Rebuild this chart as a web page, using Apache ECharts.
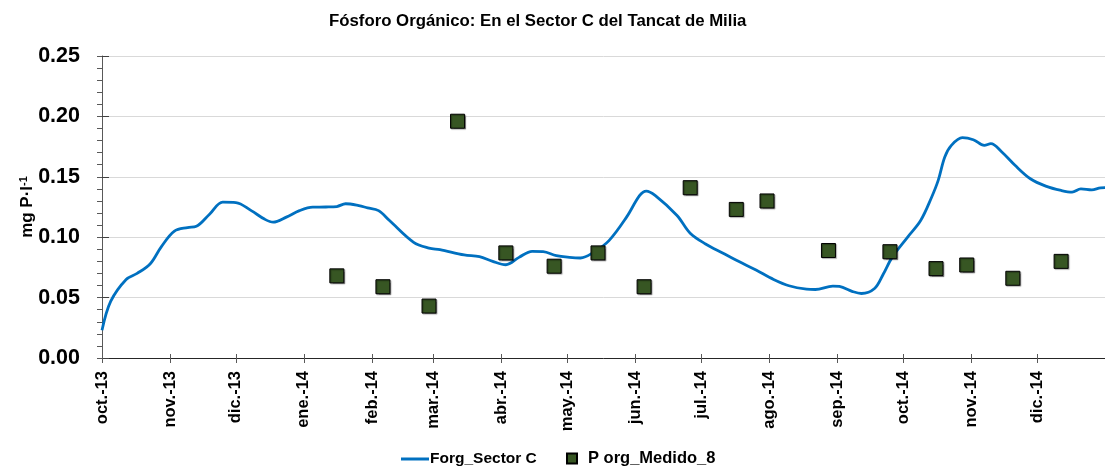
<!DOCTYPE html>
<html>
<head>
<meta charset="utf-8">
<script src="https://cdn.jsdelivr.net/npm/echarts@6/dist/echarts.min.js"></script>
<style>
  html, body { margin: 0; padding: 0; background: #fff; }
  #chart { width: 1105px; height: 468px; }
</style>
</head>
<body>
<div id="chart"></div>
<script>
// Modelled organic phosphorus, Sector C (daily simulation, sampled)
const modelDates = [
  '2013-10-01','2013-10-05','2013-10-12','2013-10-17','2013-10-23','2013-10-28',
  '2013-11-03','2013-11-09','2013-11-13','2013-11-19','2013-11-25','2013-12-01',
  '2013-12-08','2013-12-14','2013-12-18','2013-12-24','2013-12-30','2014-01-05',
  '2014-01-11','2014-01-16','2014-01-20','2014-01-26','2014-01-30','2014-02-04',
  '2014-02-09','2014-02-20','2014-02-27','2014-03-04','2014-03-15','2014-03-22',
  '2014-03-28','2014-04-03','2014-04-09','2014-04-15','2014-04-20','2014-04-26',
  '2014-05-02','2014-05-07','2014-05-13','2014-05-20','2014-05-28','2014-06-03',
  '2014-06-06','2014-06-10','2014-06-20','2014-06-26','2014-07-03','2014-07-11',
  '2014-07-18','2014-07-26','2014-08-03','2014-08-10','2014-08-18','2014-08-22',
  '2014-08-30','2014-09-02','2014-09-08','2014-09-12','2014-09-18','2014-09-22',
  '2014-09-26','2014-10-03','2014-10-09','2014-10-14','2014-10-17','2014-10-20',
  '2014-10-23','2014-10-28','2014-11-02','2014-11-07','2014-11-10','2014-11-15',
  '2014-11-21','2014-11-28','2014-12-05','2014-12-12','2014-12-17','2014-12-21',
  '2014-12-26','2014-12-30','2015-01-01'
];
const modelValues = [
  0.023, 0.047, 0.065, 0.070, 0.078, 0.092,
  0.105, 0.108, 0.109, 0.119, 0.129, 0.1287,
  0.122, 0.115, 0.1124, 0.1166, 0.122, 0.1249,
  0.125, 0.1254, 0.1277, 0.1262, 0.1243, 0.122,
  0.1138, 0.0958, 0.091, 0.0897, 0.0853, 0.0839,
  0.080, 0.0772, 0.0833, 0.0883, 0.088, 0.0847,
  0.0833, 0.0828, 0.0875, 0.0972, 0.1166, 0.1346,
  0.1382, 0.1346, 0.118, 0.1033, 0.0944, 0.0867,
  0.080, 0.0728, 0.065, 0.0598, 0.057, 0.0567,
  0.0595, 0.0592, 0.055, 0.0534, 0.0575, 0.0695,
  0.0833, 0.0999, 0.1138, 0.1331, 0.147, 0.1664,
  0.176, 0.1824, 0.1807, 0.176, 0.1775, 0.1705,
  0.1595, 0.1484, 0.1423, 0.1387, 0.1373, 0.140,
  0.1392, 0.1409, 0.141
];

// Field samples, station 8
const sampleDates = [
  '2014-01-16','2014-02-06','2014-02-27','2014-03-12','2014-04-03','2014-04-25',
  '2014-05-15','2014-06-05','2014-06-26','2014-07-17','2014-07-31','2014-08-28',
  '2014-09-25','2014-10-16','2014-10-30','2014-11-20','2014-12-12'
];
const sampleValues = [
  0.068, 0.059, 0.043, 0.196, 0.087, 0.076,
  0.087, 0.059, 0.141, 0.123, 0.130, 0.089,
  0.088, 0.074, 0.077, 0.066, 0.080
];

const monthNames = ['ene.','feb.','mar.','abr.','may.','jun.','jul.','ago.','sep.','oct.','nov.','dic.'];
const titleText = 'Fósforo Orgánico: En el Sector C del Tancat de Milia';
const lineName = 'Forg_Sector C';
const pointName = 'P org_Medido_8';
const xMin = '2013-10-01';
const xMax = '2015-01-01';

const FONT = '"Liberation Sans", Arial, sans-serif';
const DAY = 86400000;

const chart = echarts.init(document.getElementById('chart'), null, { renderer: 'canvas' });

const monthLabel = v => {
  const d = new Date(v);
  return monthNames[d.getMonth()] + '-' + String(d.getFullYear()).slice(2);
};

chart.setOption({
  animation: false,
  backgroundColor: '#ffffff',
  title: {
    text: titleText,
    left: 324,
    top: 8,
    textStyle: { fontFamily: FONT, fontWeight: 'bold', fontSize: 16.8, color: '#000' }
  },
  legend: [
    {
      data: [{ name: lineName, icon: 'rect' }],
      left: 396, top: 446,
      itemWidth: 28, itemHeight: 3, itemGap: 4,
      textStyle: { fontFamily: FONT, fontWeight: 'bold', fontSize: 15.5, color: '#000', padding: [0, 0, 0, -4] }
    },
    {
      data: [{ name: pointName, icon: 'rect' }],
      left: 561, top: 445,
      itemWidth: 10, itemHeight: 10,
      textStyle: { fontFamily: FONT, fontWeight: 'bold', fontSize: 16.5, color: '#000', padding: [0, 0, 0, 6] }
    }
  ],
  grid: { left: 102, right: 0, top: 56, bottom: 110, containLabel: false },
  xAxis: [
    {
      type: 'time',
      min: xMin, max: xMax,
      minInterval: 27 * DAY, maxInterval: 31 * DAY,
      axisLine: { show: true, lineStyle: { color: '#262626', width: 1 } },
      axisTick: { show: true, length: 5, lineStyle: { color: '#595959' } },
      axisLabel: {
        rotate: 90, margin: 13, showMaxLabel: false, hideOverlap: false,
        fontFamily: FONT, fontWeight: 'bold', fontSize: 16.5, color: '#000',
        formatter: monthLabel
      },
      splitLine: { show: false }
    },
    {
      type: 'time',
      min: xMin, max: xMax,
      minInterval: 27 * DAY, maxInterval: 31 * DAY,
      position: 'bottom',
      axisLine: { show: false },
      axisTick: { show: true, inside: true, length: 4, lineStyle: { color: '#595959' } },
      axisLabel: { show: false },
      splitLine: { show: false }
    }
  ],
  yAxis: [
    {
      type: 'value',
      min: 0, max: 0.25, interval: 0.05,
      name: 'mg P·l{sup|-1}',
      nameLocation: 'middle',
      nameGap: 65,
      nameMoveOverlap: false,
      nameRotate: 90,
      nameTextStyle: {
        fontFamily: FONT, fontWeight: 'bold', fontSize: 17, color: '#000',
        rich: { sup: { fontFamily: FONT, fontWeight: 'bold', fontSize: 11, color: '#000', verticalAlign: 'top', padding: [0, 0, 8, 0] } }
      },
      axisLine: { show: true, lineStyle: { color: '#595959', width: 1 } },
      axisTick: { show: true, length: 5, lineStyle: { color: '#595959' } },
      minorTick: { show: true, splitNumber: 5, length: 5, lineStyle: { color: '#595959' } },
      axisLabel: {
        margin: 22, fontFamily: FONT, fontWeight: 'bold', fontSize: 21.5, color: '#000',
        formatter: v => v.toFixed(2)
      },
      splitLine: { show: true, lineStyle: { color: '#d9d9d9', width: 1 } }
    },
    {
      type: 'value',
      min: 0, max: 0.25, interval: 0.05,
      position: 'left',
      axisLine: { show: false },
      axisTick: { show: true, inside: true, length: 7, lineStyle: { color: '#404040' } },
      axisLabel: { show: false },
      splitLine: { show: false }
    }
  ],
  series: [
    {
      name: lineName,
      type: 'line',
      data: modelDates.map((d, i) => [d, modelValues[i]]),
      showSymbol: false,
      symbol: 'none',
      smooth: 0.35,
      lineStyle: { color: '#0070C0', width: 2.8 },
      itemStyle: { color: '#0070C0' },
      z: 2
    },
    {
      name: pointName,
      type: 'scatter',
      data: sampleDates.map((d, i) => [d, sampleValues[i]]),
      symbol: 'rect',
      symbolSize: 14,
      itemStyle: {
        color: '#375623', opacity: 1, borderColor: '#000', borderWidth: 1,
        shadowColor: 'rgba(0,0,0,0.35)', shadowBlur: 1, shadowOffsetX: 1, shadowOffsetY: 1
      },
      z: 3
    }
  ]
});
</script>
</body>
</html>
